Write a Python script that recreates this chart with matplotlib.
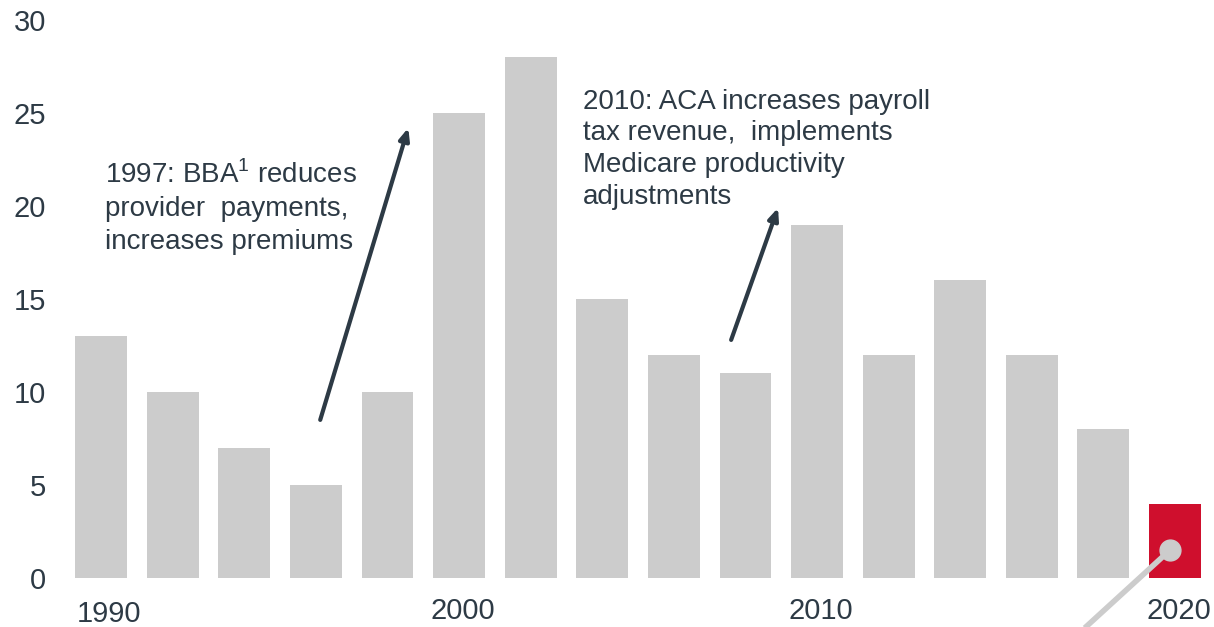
import matplotlib
matplotlib.use('Agg')
from matplotlib import pyplot as plt
import matplotlib.transforms as mtransforms
import numpy as np

# data
years = [1990, 1992, 1994, 1996, 1998, 2000, 2002, 2004,
         2006, 2008, 2010, 2012, 2014, 2016, 2018, 2020]
values = [13, 10, 7, 5, 10, 25, 28, 15, 12, 11, 19, 12, 16, 12, 8, 4]
highlight_year = 2020
xticks = [1990, 2000, 2010, 2020]
yticks = [0, 5, 10, 15, 20, 25, 30]

note_bba = '1997: BBA$^{\\mathregular{1}}$ reduces\nprovider  payments,\nincreases premiums'
note_aca = '2010: ACA increases payroll\ntax revenue,  implements\nMedicare productivity\nadjustments'

text_col = '#2d3a45'
bar_col = '#cccccc'
red = '#cf0f2d'

plt.rcParams['font.family'] = ['Liberation Sans', 'DejaVu Sans']
plt.rcParams['mathtext.fontset'] = 'custom'
plt.rcParams['mathtext.rm'] = 'Liberation Sans'

fig = plt.figure(figsize=(12.14, 6.27), dpi=100)
ax = fig.add_axes([60 / 1214, 1 - 578 / 627, 1 - 60 / 1214, (578 - 20) / 627])

colors = [red if y == highlight_year else bar_col for y in years]
ax.bar(years, values, width=1.45, color=colors)

ax.set_xlim(1988.85, 2021.09)
ax.set_ylim(0, 30)
ax.set_xticks(xticks)
ax.set_yticks(yticks)
for s in ax.spines.values():
    s.set_visible(False)
ax.tick_params(length=0, labelsize=21, colors=text_col)
ax.tick_params(axis='x', pad=14)
ax.tick_params(axis='y', pad=10)
# year labels sit a bit right of the bars, the first one also lower
for i, lab in enumerate(ax.get_xticklabels()):
    dx, dy = (0.08, -0.03) if i == 0 else (0.04, 0)
    lab.set_transform(lab.get_transform() + mtransforms.ScaledTranslation(dx, dy, fig.dpi_scale_trans))

# annotations
ax.text(1990.11, 22.45, note_bba, fontsize=20, color=text_col, va='top',
        ha='left', linespacing=1.36)
ax.text(2003.46, 26.3, note_aca, fontsize=20, color=text_col, va='top',
        ha='left', linespacing=1.28)

arrow = dict(arrowstyle='-|>,head_length=0.7,head_width=0.3', color=text_col,
             lw=3, shrinkA=0, shrinkB=0)
ax.annotate('', xy=(1998.58, 24.2), xytext=(1996.12, 8.5), arrowprops=arrow)
ax.annotate('', xy=(2008.91, 19.9), xytext=(2007.6, 12.8), arrowprops=arrow)

# gray pointer on the 2020 bar
ax.plot([2019.86, 2017.3], [1.5, -3.0], color=bar_col, lw=4, clip_on=False,
        solid_capstyle='butt')
ax.plot([2019.86], [1.5], 'o', color=bar_col, ms=15, clip_on=False)

fig.savefig('out.png', dpi=100)
